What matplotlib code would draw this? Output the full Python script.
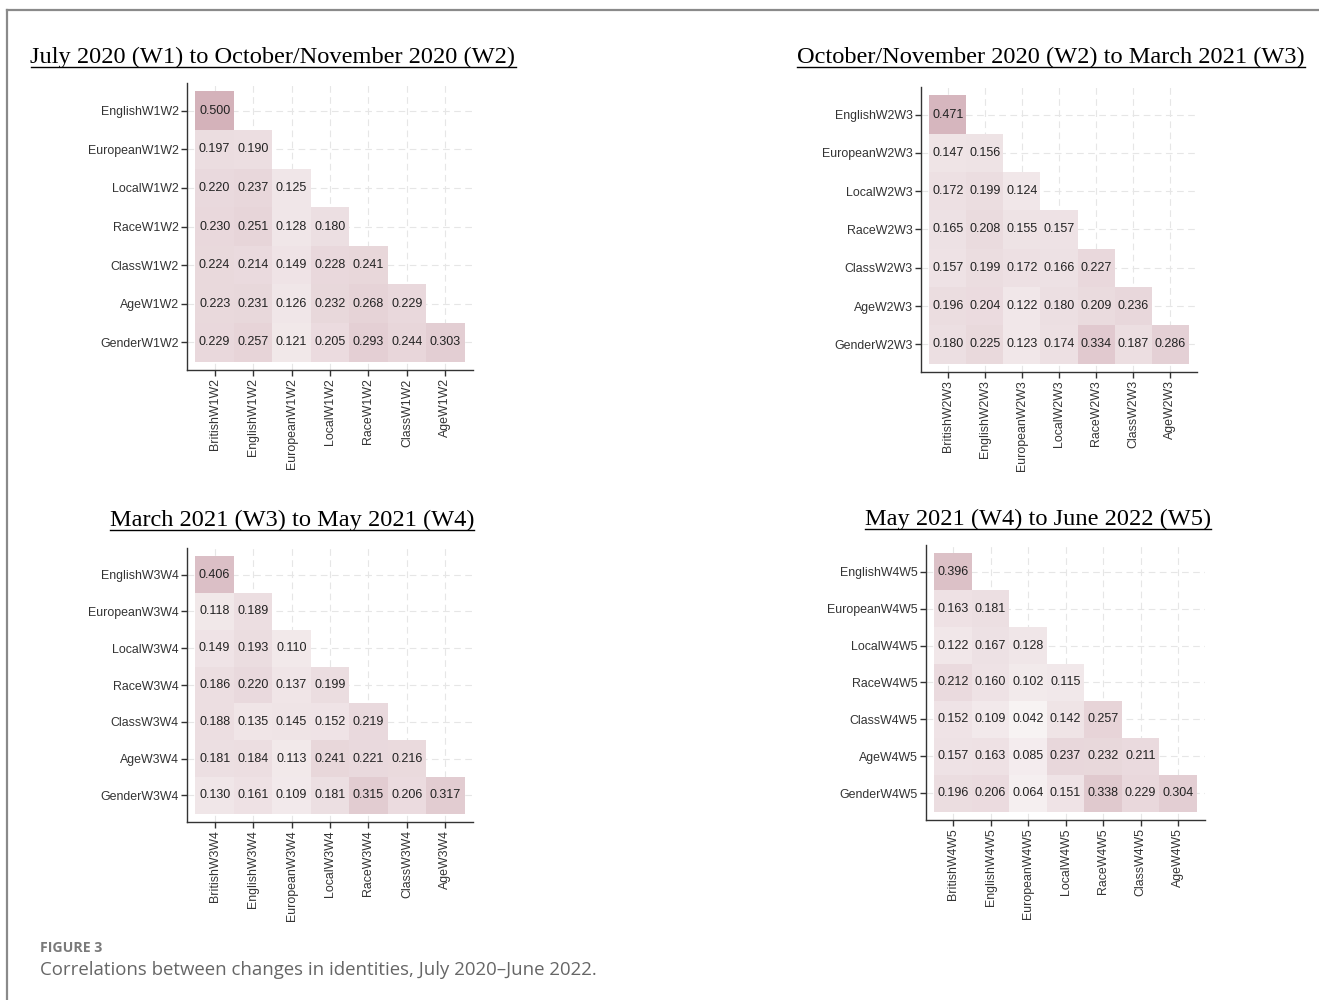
import numpy as np
import matplotlib
matplotlib.use("Agg")
import matplotlib.pyplot as plt
from matplotlib.colors import LinearSegmentedColormap
from matplotlib.lines import Line2D

W, H = 1319, 1000

row_names = ["English", "European", "Local", "Race", "Class", "Age", "Gender"]
col_names = ["British", "English", "European", "Local", "Race", "Class", "Age"]

titles = [
    "July 2020 (W1) to October/November 2020 (W2)",
    "October/November 2020 (W2) to March 2021 (W3)",
    "March 2021 (W3) to May 2021 (W4)",
    "May 2021 (W4) to June 2022 (W5)",
]
suffixes = ["W1W2", "W2W3", "W3W4", "W4W5"]

vals_w1w2 = [
    [0.500],
    [0.197, 0.190],
    [0.220, 0.237, 0.125],
    [0.230, 0.251, 0.128, 0.180],
    [0.224, 0.214, 0.149, 0.228, 0.241],
    [0.223, 0.231, 0.126, 0.232, 0.268, 0.229],
    [0.229, 0.257, 0.121, 0.205, 0.293, 0.244, 0.303],
]
vals_w2w3 = [
    [0.471],
    [0.147, 0.156],
    [0.172, 0.199, 0.124],
    [0.165, 0.208, 0.155, 0.157],
    [0.157, 0.199, 0.172, 0.166, 0.227],
    [0.196, 0.204, 0.122, 0.180, 0.209, 0.236],
    [0.180, 0.225, 0.123, 0.174, 0.334, 0.187, 0.286],
]
vals_w3w4 = [
    [0.406],
    [0.118, 0.189],
    [0.149, 0.193, 0.110],
    [0.186, 0.220, 0.137, 0.199],
    [0.188, 0.135, 0.145, 0.152, 0.219],
    [0.181, 0.184, 0.113, 0.241, 0.221, 0.216],
    [0.130, 0.161, 0.109, 0.181, 0.315, 0.206, 0.317],
]
vals_w4w5 = [
    [0.396],
    [0.163, 0.181],
    [0.122, 0.167, 0.128],
    [0.212, 0.160, 0.102, 0.115],
    [0.152, 0.109, 0.042, 0.142, 0.257],
    [0.157, 0.163, 0.085, 0.237, 0.232, 0.211],
    [0.196, 0.206, 0.064, 0.151, 0.338, 0.229, 0.304],
]
all_vals = [vals_w1w2, vals_w2w3, vals_w3w4, vals_w4w5]

# layout in pixels: (left, right, top, bottom) of axes; title (cx, baseline y)
axes_px = [(187, 473, 83, 370), (921, 1197, 87, 372),
           (187, 473, 548, 822), (926, 1205, 545, 820)]
title_px = [(273, 63), (1051, 63), (292, 526), (1038, 525)]

cmap = LinearSegmentedColormap.from_list("rose", ["#faf8f8", "#ae6c7c"])

fig = plt.figure(figsize=(W / 100, H / 100), dpi=100)
fig.patch.set_facecolor("white")

# page border lines
fig.add_artist(Line2D([7 / W, 7 / W], [0, 1 - 10 / H], transform=fig.transFigure,
                      color="#8a8a8a", lw=1.6))
fig.add_artist(Line2D([7 / W, 1], [1 - 10 / H, 1 - 10 / H], transform=fig.transFigure,
                      color="#8a8a8a", lw=1.6))

lim = 0.72
title_texts = []
for k in range(4):
    l, r, t, b = axes_px[k]
    ax = fig.add_axes([l / W, 1 - b / H, (r - l) / W, (b - t) / H])
    n = len(row_names)
    mat = np.full((n, n), np.nan)
    for i, row in enumerate(all_vals[k]):
        for j, v in enumerate(row):
            mat[i, j] = v
    m = np.ma.masked_invalid(mat)
    edges = np.arange(n + 1) - 0.5
    ax.pcolormesh(edges, edges, m, cmap=cmap, vmin=0, vmax=1, zorder=2)
    for i, row in enumerate(all_vals[k]):
        for j, v in enumerate(row):
            ax.text(j, i, f"{v:.3f}", ha="center", va="center", fontsize=9,
                    family="Liberation Sans", color="#222222", zorder=3)
    ax.set_xlim(-lim, n - 1 + lim)
    ax.set_ylim(n - 1 + lim, -lim)
    ax.set_xticks(range(n))
    ax.set_yticks(range(n))
    ax.set_xticklabels([c + suffixes[k] for c in col_names], rotation=90,
                       family="Liberation Sans", fontsize=8.9, color="#333333")
    ax.set_yticklabels([rn + suffixes[k] for rn in row_names],
                       family="Liberation Sans", fontsize=8.9, color="#333333")
    ax.tick_params(length=4, width=1, color="#333333", pad=2)
    for s in ["top", "right"]:
        ax.spines[s].set_visible(False)
    for s in ["left", "bottom"]:
        ax.spines[s].set_color("#333333")
        ax.spines[s].set_linewidth(1.0)
    ax.grid(True, color="#e6e6e6", lw=0.8, ls=(0, (6, 4)), zorder=0)
    ax.set_axisbelow(True)
    ax.set_facecolor("white")

    cx, by = title_px[k]
    tt = fig.text(cx / W, 1 - by / H, titles[k], ha="center", va="baseline",
                  family="Liberation Serif", fontsize=17.6, color="black")
    title_texts.append((tt, by))

fig.text(40 / W, 1 - 952 / H, "FIGURE 3", family="Open Sans", fontweight="bold",
         fontsize=10.2, color="#7a7a7a", ha="left", va="baseline")
fig.text(40 / W, 1 - 975 / H,
         "Correlations between changes in identities, July 2020\u2013June 2022.",
         family="Open Sans", fontsize=13.4, color="#666666", ha="left", va="baseline")

# underline titles
fig.canvas.draw()
ren = fig.canvas.get_renderer()
for tt, by in title_texts:
    bb = tt.get_window_extent(ren)
    uy = 1 - (by + 3.5) / H
    fig.add_artist(Line2D([bb.x0 / W, bb.x1 / W], [uy, uy], transform=fig.transFigure,
                          color="black", lw=1.0))

fig.savefig("out.png", dpi=100, facecolor="white")
